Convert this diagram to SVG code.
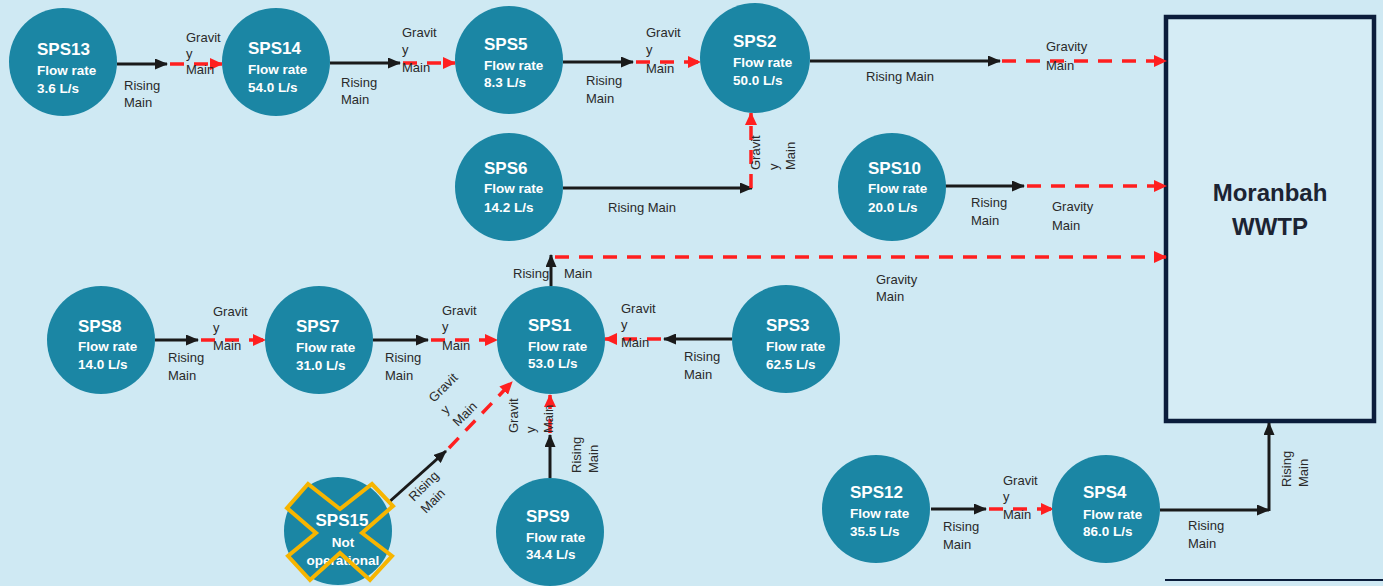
<svg xmlns="http://www.w3.org/2000/svg" width="1383" height="586" viewBox="0 0 1383 586">
<defs>
<marker id="ab" markerUnits="userSpaceOnUse" markerWidth="13" markerHeight="11" refX="12" refY="5.5" orient="auto"><path d="M0,0 L13,5.5 L0,11 z" fill="#1a1a1a"/></marker>
<marker id="ar" markerUnits="userSpaceOnUse" markerWidth="13" markerHeight="12" refX="12" refY="6" orient="auto"><path d="M0,0 L13,6 L0,12 z" fill="#ff1f1f"/></marker>
<style>
.n{fill:#1b86a4}
.t{font-family:"Liberation Sans",Arial,sans-serif;font-weight:bold;fill:#fff}
.t1{font-size:17px}
.t2{font-size:13.5px}
.l{font-family:"Liberation Sans",Arial,sans-serif;font-size:13px;fill:#2a2a2a}
.bk{fill:none;stroke:#1a1a1a;stroke-width:3;marker-end:url(#ab)}
.rd{fill:none;stroke:#ff1f1f;stroke-width:3.5;stroke-dasharray:14 10;marker-end:url(#ar)}
.w{font-family:"Liberation Sans",Arial,sans-serif;font-weight:bold;font-size:24px;fill:#1c2433}
</style>
</defs>
<rect x="0" y="0" width="1383" height="586" fill="#cfe9f3"/>

<g id="wwtp">
<rect x="1166" y="17" width="208" height="404" fill="#d5ecf5" stroke="#0b1d3b" stroke-width="4.5"/>
<text class="w" x="1270" y="201" text-anchor="middle">Moranbah</text>
<text class="w" x="1270" y="235" text-anchor="middle">WWTP</text>
</g>
<line x1="1165" y1="580" x2="1383" y2="580" stroke="#0b1d3b" stroke-width="2"/>

<g id="connectors">
<path class="bk" d="M117,64 H167"/><path class="rd" d="M170,64 H222"/>
<path class="bk" d="M330,63 H400"/><path class="rd" d="M403,63 H455"/>
<path class="bk" d="M563,62 H633"/><path class="rd" d="M636,62 H700"/>
<path class="bk" d="M810,61 H1000"/><path class="rd" d="M1002,61 H1166"/>
<path class="bk" d="M563,188 H752"/><path class="rd" d="M751,188 V113"/>
<path class="bk" d="M945,186 H1024"/><path class="rd" d="M1027,186 H1166"/>
<path class="bk" d="M551,286 V255"/><path class="rd" d="M555,257 H1166"/>
<path class="bk" d="M155,340 H198"/><path class="rd" d="M201,340 H265"/>
<path class="bk" d="M373,340 H428"/><path class="rd" d="M431,340 H497"/>
<path class="bk" d="M732,339 H664"/><path class="rd" d="M661,339 H605"/>
<path class="bk" d="M550,478 V435"/><path class="rd" d="M550,433 V395"/>
<path class="bk" d="M388,503 L446,451"/><path class="rd" d="M449,448 L512,382"/>
<path class="bk" d="M931,509 H986"/><path class="rd" d="M989,509 H1053"/>
<path class="bk" d="M1160,510 H1269"/><path class="bk" d="M1269,511 V423"/>

<text class="l" x="124" y="90">Rising</text><text class="l" x="124" y="107">Main</text>
<text class="l" x="186" y="42">Gravit</text><text class="l" x="186" y="58">y</text><text class="l" x="186" y="74">Main</text>
<text class="l" x="341" y="87">Rising</text><text class="l" x="341" y="104">Main</text>
<text class="l" x="402" y="37">Gravit</text><text class="l" x="402" y="54">y</text><text class="l" x="402" y="72">Main</text>
<text class="l" x="586" y="85">Rising</text><text class="l" x="586" y="103">Main</text>
<text class="l" x="646" y="37">Gravit</text><text class="l" x="646" y="54">y</text><text class="l" x="646" y="73">Main</text>
<text class="l" x="866" y="81">Rising Main</text>
<text class="l" x="1046" y="51">Gravity</text><text class="l" x="1046" y="70">Main</text>
<text class="l" x="608" y="212">Rising Main</text>
<g transform="translate(760,170) rotate(-90)"><text class="l" x="0" y="0">Gravit</text><text class="l" x="0" y="17.5">y</text><text class="l" x="0" y="35">Main</text></g>
<text class="l" x="971" y="207">Rising</text><text class="l" x="971" y="225">Main</text>
<text class="l" x="1052" y="211">Gravity</text><text class="l" x="1052" y="230">Main</text>
<text class="l" x="513" y="278">Rising</text><text class="l" x="564" y="278">Main</text>
<text class="l" x="876" y="284">Gravity</text><text class="l" x="876" y="301">Main</text>
<text class="l" x="168" y="362">Rising</text><text class="l" x="168" y="380">Main</text>
<text class="l" x="213" y="316">Gravit</text><text class="l" x="213" y="332">y</text><text class="l" x="213" y="350">Main</text>
<text class="l" x="385" y="362">Rising</text><text class="l" x="385" y="380">Main</text>
<text class="l" x="442" y="315">Gravit</text><text class="l" x="442" y="331">y</text><text class="l" x="442" y="350">Main</text>
<text class="l" x="621" y="313">Gravit</text><text class="l" x="621" y="329">y</text><text class="l" x="621" y="347">Main</text>
<text class="l" x="684" y="361">Rising</text><text class="l" x="684" y="379">Main</text>
<g transform="translate(518,433) rotate(-90)"><text class="l" x="0" y="0">Gravit</text><text class="l" x="0" y="17">y</text><text class="l" x="0" y="35">Main</text></g>
<g transform="translate(581,473) rotate(-90)"><text class="l" x="0" y="0">Rising</text><text class="l" x="0" y="17">Main</text></g>
<g transform="translate(434,403) rotate(-45)"><text class="l" x="0" y="0">Gravit</text><text class="l" x="0" y="17">y</text><text class="l" x="0" y="34">Main</text></g>
<g transform="translate(414,502) rotate(-45)"><text class="l" x="0" y="0">Rising</text><text class="l" x="0" y="17">Main</text></g>
<text class="l" x="943" y="531">Rising</text><text class="l" x="943" y="549">Main</text>
<text class="l" x="1003" y="485">Gravit</text><text class="l" x="1003" y="501">y</text><text class="l" x="1003" y="519">Main</text>
<text class="l" x="1188" y="530">Rising</text><text class="l" x="1188" y="548">Main</text>
<g transform="translate(1291,487) rotate(-90)"><text class="l" x="0" y="0">Rising</text><text class="l" x="0" y="17">Main</text></g>
</g>

<g id="sps13"><circle class="n" cx="63" cy="62" r="54"/><text class="t t1" x="37" y="55">SPS13</text><text class="t t2" x="37" y="75">Flow rate</text><text class="t t2" x="37" y="93">3.6 L/s</text></g>
<g id="sps14"><circle class="n" cx="276" cy="62" r="54"/><text class="t t1" x="248" y="54">SPS14</text><text class="t t2" x="248" y="74">Flow rate</text><text class="t t2" x="248" y="92">54.0 L/s</text></g>
<g id="sps5"><circle class="n" cx="509" cy="60" r="54"/><text class="t t1" x="484" y="50">SPS5</text><text class="t t2" x="484" y="70">Flow rate</text><text class="t t2" x="484" y="87">8.3 L/s</text></g>
<g id="sps2"><circle class="n" cx="755" cy="58" r="55"/><text class="t t1" x="733" y="47">SPS2</text><text class="t t2" x="733" y="67">Flow rate</text><text class="t t2" x="733" y="85">50.0 L/s</text></g>
<g id="sps6"><circle class="n" cx="509" cy="187" r="54"/><text class="t t1" x="484" y="174">SPS6</text><text class="t t2" x="484" y="193">Flow rate</text><text class="t t2" x="484" y="212">14.2 L/s</text></g>
<g id="sps10"><circle class="n" cx="892" cy="187" r="54"/><text class="t t1" x="868" y="174">SPS10</text><text class="t t2" x="868" y="193">Flow rate</text><text class="t t2" x="868" y="212">20.0 L/s</text></g>
<g id="sps8"><circle class="n" cx="101" cy="340" r="54"/><text class="t t1" x="78" y="332">SPS8</text><text class="t t2" x="78" y="351">Flow rate</text><text class="t t2" x="78" y="369">14.0 L/s</text></g>
<g id="sps7"><circle class="n" cx="319" cy="340" r="54"/><text class="t t1" x="296" y="332">SPS7</text><text class="t t2" x="296" y="352">Flow rate</text><text class="t t2" x="296" y="370">31.0 L/s</text></g>
<g id="sps1"><circle class="n" cx="551" cy="340" r="54"/><text class="t t1" x="528" y="331">SPS1</text><text class="t t2" x="528" y="351">Flow rate</text><text class="t t2" x="528" y="368">53.0 L/s</text></g>
<g id="sps3"><circle class="n" cx="786" cy="339" r="54"/><text class="t t1" x="766" y="331">SPS3</text><text class="t t2" x="766" y="351">Flow rate</text><text class="t t2" x="766" y="369">62.5 L/s</text></g>
<g id="sps9"><circle class="n" cx="550" cy="532" r="54"/><text class="t t1" x="526" y="522">SPS9</text><text class="t t2" x="526" y="542">Flow rate</text><text class="t t2" x="526" y="559">34.4 L/s</text></g>
<g id="sps12"><circle class="n" cx="876" cy="509" r="54"/><text class="t t1" x="850" y="498">SPS12</text><text class="t t2" x="850" y="518">Flow rate</text><text class="t t2" x="850" y="536">35.5 L/s</text></g>
<g id="sps4"><circle class="n" cx="1106" cy="509" r="54"/><text class="t t1" x="1083" y="498">SPS4</text><text class="t t2" x="1083" y="519">Flow rate</text><text class="t t2" x="1083" y="536">86.0 L/s</text></g>
<g id="sps15"><circle class="n" cx="338" cy="531" r="54"/><text class="t t1" x="342" y="526" text-anchor="middle">SPS15</text><text class="t t2" x="343" y="547" text-anchor="middle">Not</text><text class="t t2" x="343" y="565" text-anchor="middle">operational</text>
<polygon points="287,508 308,484 340,509 372,484 393,506 362,533 392,556 370,580 340,553 310,580 288,556 316,533" fill="none" stroke="#f7b500" stroke-width="4" stroke-linejoin="miter"/></g>
</svg>
